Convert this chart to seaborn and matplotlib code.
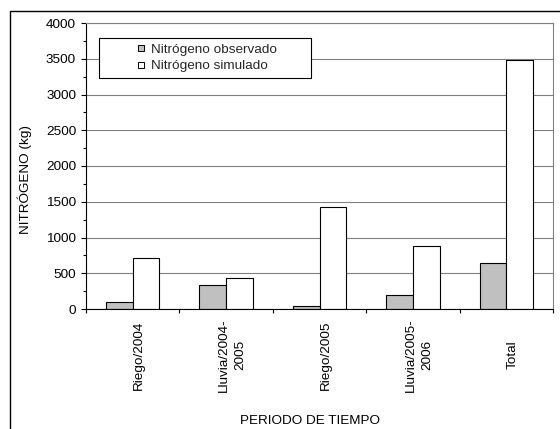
import matplotlib
matplotlib.use("Agg")
import matplotlib.pyplot as plt
import matplotlib.transforms as mtransforms
from matplotlib.lines import Line2D
from matplotlib.patches import Rectangle
from matplotlib.ticker import MultipleLocator, FixedLocator
import pandas as pd
import seaborn as sns

# Nitrógeno por periodo (kg)
periodos = ["Riego/2004", "Lluvia/2004-\n2005", "Riego/2005", "Lluvia/2005-\n2006", "Total"]
observado = [95, 330, 35, 190, 650]
simulado = [720, 430, 1420, 875, 3480]
series = ["Nitrógeno observado", "Nitrógeno simulado"]
colores = ["#C0C0C0", "#FFFFFF"]

df = pd.DataFrame({
    "periodo": periodos * 2,
    "serie": [series[0]] * len(periodos) + [series[1]] * len(periodos),
    "valor": observado + simulado,
})

sns.set_theme(style="white")
plt.rcParams["font.family"] = ["Liberation Sans", "DejaVu Sans"]
FS = 9.7

W, H = 560, 429
fig = plt.figure(figsize=(W / 100, H / 100), dpi=100)
ax = fig.add_axes([86 / W, 1 - 309 / H, 467 / W, 286 / H])

sns.barplot(data=df, x="periodo", y="valor", hue="serie", palette=colores,
            saturation=1, edgecolor="black", linewidth=0.8, width=0.57, gap=0,
            legend=False, ax=ax)

ax.set_xlim(-0.5, len(periodos) - 0.5)
ax.set_ylim(0, 4000)
ax.set_xlabel("")
ax.set_ylabel("")

# eje Y: marcas principales cada 500, secundarias cada 250
ax.yaxis.set_major_locator(MultipleLocator(500))
ax.yaxis.set_minor_locator(MultipleLocator(250))
ax.grid(axis="y", which="major", color="#808080", linewidth=0.8)
ax.set_axisbelow(True)
ax.tick_params(axis="y", which="major", direction="out", length=3.6, width=0.8,
               color="black", labelsize=FS, pad=3.5, left=True, labelcolor="black")
ax.tick_params(axis="y", which="minor", direction="out", length=2.2, width=0.8,
               color="black", left=True)

# eje X: marcas entre categorías
ax.xaxis.set_minor_locator(FixedLocator([i - 0.5 for i in range(len(periodos) + 1)]))
ax.tick_params(axis="x", which="minor", direction="out", length=3, width=0.8,
               color="black", bottom=True)
ax.tick_params(axis="x", which="major", length=0, pad=33, labelsize=FS, labelcolor="black")
ax.set_xticks(range(len(periodos)))
ax.set_xticklabels(periodos, rotation=90, va="center", ha="center", linespacing=1.5)

for lado in ("left", "bottom"):
    ax.spines[lado].set_color("black")
    ax.spines[lado].set_linewidth(0.8)
for lado in ("top", "right"):
    ax.spines[lado].set_color("#808080")
    ax.spines[lado].set_linewidth(0.8)

# leyenda
handles = [Line2D([], [], marker="s", linestyle="none", markersize=4.3,
                  markerfacecolor=c, markeredgecolor="black", markeredgewidth=0.7)
           for c in colores]
leg = ax.legend(handles, series, loc="upper left",
                bbox_to_anchor=(13 / 467, (309 - 83.3) / 286, 212 / 467, 45.6 / 286),
                mode="expand", borderaxespad=0, fancybox=False, frameon=True,
                edgecolor="black", framealpha=1, handlelength=5.47,
                handletextpad=-2.0, labelspacing=0.33, borderpad=0.4, fontsize=FS)
leg.get_frame().set_linewidth(0.8)

# títulos de ejes
fig.text(25 / W, 1 - 179 / H, "NITRÓGENO (kg)", rotation=90, ha="center",
         va="center", fontsize=FS, color="black")
fig.text(310 / W, 1 - 424.5 / H, "PERIODO DE TIEMPO", ha="center",
         va="baseline", fontsize=FS, color="black")

# marco del gráfico
fig.add_artist(Rectangle((10 / W, -0.1), 1.0, 1 - 11 / H + 0.1,
                         transform=fig.transFigure, fill=False,
                         edgecolor="black", linewidth=1.0))

desplaza = mtransforms.ScaledTranslation(6 / 100, 0, fig.dpi_scale_trans)
for lbl in ax.get_xticklabels():
    lbl.set_transform(lbl.get_transform() + desplaza)

fig.savefig("out.png", dpi=100)
